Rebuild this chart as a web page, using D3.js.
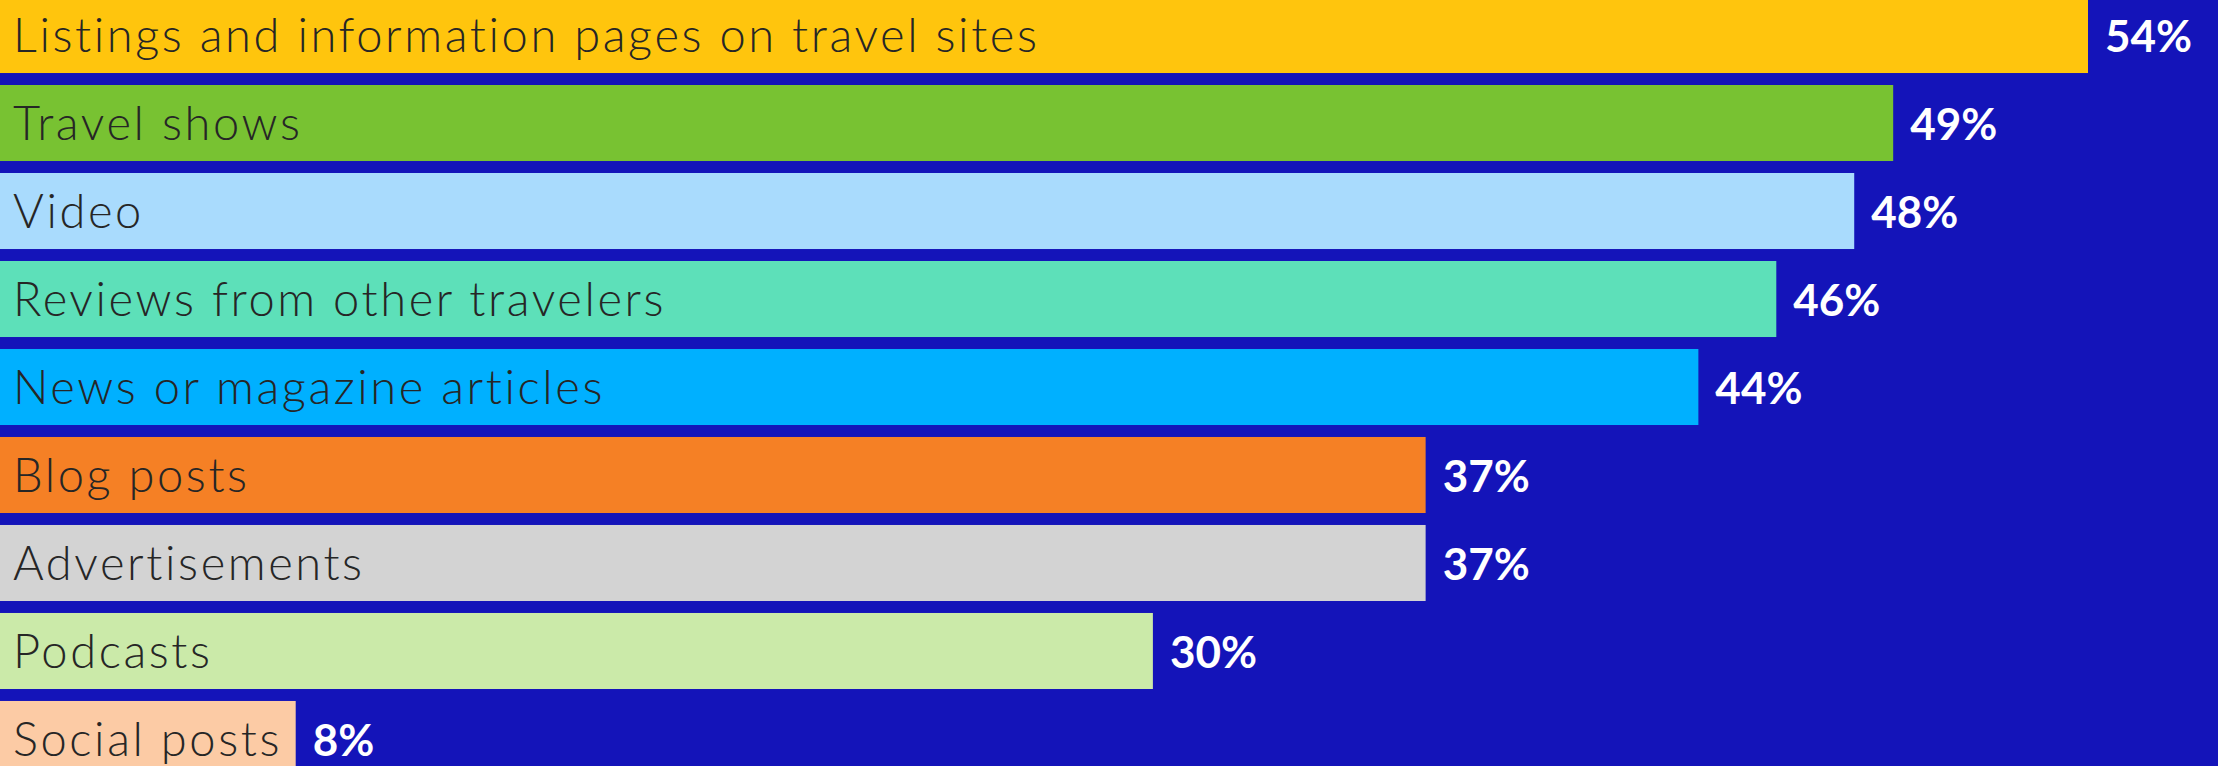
<!DOCTYPE html>
<html>
<head>
<meta charset="utf-8">
<script src="https://cdn.jsdelivr.net/npm/d3@7"></script>
<style>
  html, body { margin: 0; padding: 0; background: #1414b9; overflow: hidden; }
</style>
</head>
<body>
<div id="chart"></div>
<script>
// Data
const categories = [
  'Listings and information pages on travel sites',
  'Travel shows',
  'Video',
  'Reviews from other travelers',
  'News or magazine articles',
  'Blog posts',
  'Advertisements',
  'Podcasts',
  'Social posts'
];
const values = [54, 49, 48, 46, 44, 37, 37, 30, 8];
const barColors = ['#ffc50d', '#78c232', '#a9dbfd', '#5de0b9', '#00b0ff', '#f58025', '#d3d3d3', '#cbeaa9', '#fccba5'];

const width = 2218, height = 766;

const svg = d3.select('#chart').append('svg')
  .attr('width', width)
  .attr('height', height);

svg.append('rect')
  .attr('width', width)
  .attr('height', height)
  .attr('fill', '#1414b9');

// the chart is cropped, the zero line sits just off the left edge
const x = d3.scaleLinear()
  .domain([0, 54])
  .range([-16, 2088]);

const y = d3.scaleBand()
  .domain(categories)
  .range([-3, 777])
  .paddingInner(0.136)
  .paddingOuter(0);

const rows = categories.map((c, i) => ({ cat: c, value: values[i], color: barColors[i] }));

const row = svg.append('g')
  .selectAll('g')
  .data(rows)
  .enter()
  .append('g');

row.append('rect')
  .attr('x', x(0))
  .attr('y', d => y(d.cat))
  .attr('width', d => x(d.value) - x(0))
  .attr('height', y.bandwidth())
  .attr('fill', d => d.color);

// category name inside the bar
row.append('text')
  .attr('x', 13)
  .attr('y', d => y(d.cat) + y.bandwidth() / 2 + 17)
  .text(d => d.cat)
  .style('font-family', '"Lato", "DejaVu Sans", sans-serif')
  .style('font-weight', 300)
  .style('font-size', '47px')
  .style('letter-spacing', '2.6px')
  .attr('fill', '#262626');

// value label after the bar
row.append('text')
  .attr('x', d => x(d.value) + 17)
  .attr('y', d => y(d.cat) + y.bandwidth() / 2 + 17)
  .text(d => d.value + '%')
  .style('font-family', '"Lato", "DejaVu Sans", sans-serif')
  .style('font-weight', 700)
  .style('font-size', '44px')
  .attr('fill', '#ffffff');
</script>
</body>
</html>
